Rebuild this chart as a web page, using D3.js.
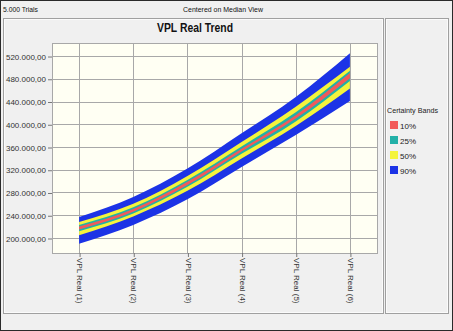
<!DOCTYPE html>
<html>
<head>
<meta charset="utf-8">
<script src="https://cdn.jsdelivr.net/npm/d3@7"></script>
<style>
  html, body { margin: 0; padding: 0; background: #f0f0f0; }
  svg { display: block; font-family: "Liberation Sans", Arial, sans-serif; }
</style>
</head>
<body>
<svg id="chart" width="453" height="331"></svg>
<script>
// Trend periods
const categories = ["VPL Real (1)", "VPL Real (2)", "VPL Real (3)", "VPL Real (4)", "VPL Real (5)", "VPL Real (6)"];

// Certainty band limits per period (lower / upper)
const lo90 = [190000, 223000, 268000, 325000, 381000, 441000];
const hi90 = [237000, 272000, 322000, 384000, 448000, 525000];
const lo50 = [205000, 238000, 283000, 340000, 397000, 463000];
const hi50 = [228000, 260000, 309000, 369000, 431000, 501000];
const lo25 = [212000, 243000, 290000, 348000, 405000, 476000];
const hi25 = [223000, 254000, 302000, 361000, 421000, 494000];
const lo10 = [215000, 246000, 293000, 352000, 410000, 481000];
const hi10 = [220000, 251000, 299000, 357000, 416000, 490000];

const yTicks = [200000, 240000, 280000, 320000, 360000, 400000, 440000, 480000, 520000];
const bandNames = ["10%", "25%", "50%", "90%"];
const bandColors = ["#f25a5a", "#22b0a8", "#f4f43c", "#1c33e6"];

const svg = d3.select("#chart");
const W = 453, H = 331;

// window frame
svg.append("rect").attr("x", 0.5).attr("y", 0.5).attr("width", W - 1).attr("height", H - 1)
  .attr("fill", "#f0f0f0").attr("stroke", "#2a2a2a");

// header line
svg.append("text").attr("x", 3).attr("y", 12).attr("font-size", 8).attr("fill", "#111")
  .attr("class", "fit").attr("data-w", 35).text("5.000 Trials");
svg.append("text").attr("x", 223).attr("y", 12).attr("font-size", 8).attr("fill", "#111")
  .attr("text-anchor", "middle").attr("class", "fit").attr("data-w", 80).text("Centered on Median View");

// panels
function panel(x, y, w, h) {
  svg.append("rect").attr("x", x + 0.5).attr("y", y + 0.5).attr("width", w).attr("height", h)
    .attr("fill", "#f0f0f0").attr("stroke", "#a0a0a0");
  svg.append("rect").attr("x", x + 1.5).attr("y", y + 1.5).attr("width", w - 2).attr("height", h - 2)
    .attr("fill", "none").attr("stroke", "#fbfbfb");
}
panel(3, 18, 380, 295);
panel(385, 18, 63, 295);

// title
svg.append("text").attr("x", 195).attr("y", 32).attr("font-size", 12).attr("font-weight", "bold")
  .attr("text-anchor", "middle").attr("fill", "#111").attr("class", "fit").attr("data-w", 76)
  .text("VPL Real Trend");

// plot area
const plot = { left: 52, right: 377, top: 43, bottom: 253 };
const x = d3.scalePoint().domain(categories).range([plot.left, plot.right]).padding(0.5);
const y = d3.scaleLinear().domain([173600, 542900]).range([plot.bottom, plot.top]);

svg.append("rect").attr("x", plot.left + 0.5).attr("y", plot.top + 0.5)
  .attr("width", plot.right - plot.left).attr("height", plot.bottom - plot.top)
  .attr("fill", "#fffff3").attr("stroke", "#a8a8a8");

// grid
const grid = svg.append("g").attr("stroke", "#a8a8a8").attr("stroke-width", 1);
grid.selectAll(".h").data(yTicks).join("line")
  .attr("x1", plot.left).attr("x2", plot.right)
  .attr("y1", d => Math.round(y(d)) + 0.5).attr("y2", d => Math.round(y(d)) + 0.5);
grid.selectAll(".v").data(categories).join("line")
  .attr("y1", plot.top).attr("y2", plot.bottom)
  .attr("x1", d => Math.round(x(d)) + 0.5).attr("x2", d => Math.round(x(d)) + 0.5);

// axes
const loc = d3.formatLocale({ decimal: ",", thousands: ".", grouping: [3], currency: ["", ""] });
const fmt = loc.format(",.2f");

const yAxis = svg.append("g").attr("transform", `translate(${plot.left},0.5)`)
  .call(d3.axisLeft(y).tickValues(yTicks).tickFormat(fmt).tickSize(4).tickPadding(2));
yAxis.select(".domain").remove();
yAxis.selectAll(".tick line").attr("stroke", "#777");
yAxis.selectAll(".tick text").attr("font-size", 8).attr("fill", "#333")
  .attr("font-family", "'Liberation Sans', Arial, sans-serif");

const xAxis = svg.append("g").attr("transform", `translate(0.5,${plot.bottom})`)
  .call(d3.axisBottom(x).tickSize(4));
xAxis.select(".domain").remove();
xAxis.selectAll(".tick line").attr("stroke", "#777");
xAxis.selectAll(".tick text")
  .attr("font-size", 8).attr("fill", "#333")
  .attr("font-family", "'Liberation Sans', Arial, sans-serif")
  .attr("text-anchor", "start")
  .attr("transform", "translate(0,5) rotate(90)")
  .attr("x", 0).attr("y", 0).attr("dy", "0.35em").attr("dx", 0);

// certainty bands, widest first
const bands = [
  { name: "90%", lo: lo90, hi: hi90, color: bandColors[3] },
  { name: "50%", lo: lo50, hi: hi50, color: bandColors[2] },
  { name: "25%", lo: lo25, hi: hi25, color: bandColors[1] },
  { name: "10%", lo: lo10, hi: hi10, color: bandColors[0] }
];
const area = d3.area().curve(d3.curveMonotoneX)
  .x(d => x(d.cat)).y0(d => y(d.lo)).y1(d => y(d.hi));
svg.append("g").selectAll("path").data(bands).join("path")
  .attr("fill", b => b.color)
  .attr("d", b => area(categories.map((c, i) => ({ cat: c, lo: b.lo[i], hi: b.hi[i] }))));

// legend
const lg = svg.append("g");
lg.append("text").attr("x", 387).attr("y", 113).attr("font-size", 8).attr("fill", "#222")
  .attr("class", "fit").attr("data-w", 51).text("Certainty Bands");
const items = lg.selectAll(".item").data(bandNames).join("g")
  .attr("transform", (d, i) => `translate(390,${121 + i * 15})`);
items.append("rect").attr("width", 8).attr("height", 8)
  .attr("fill", (d, i) => bandColors[i]);
items.append("text").attr("x", 10).attr("y", 7.5).attr("font-size", 8).attr("fill", "#222")
  .text(d => d);

// condense text blocks to their set widths
svg.selectAll("text.fit").each(function () {
  const t = d3.select(this);
  t.attr("textLength", +t.attr("data-w")).attr("lengthAdjust", "spacingAndGlyphs");
});
</script>
</body>
</html>
